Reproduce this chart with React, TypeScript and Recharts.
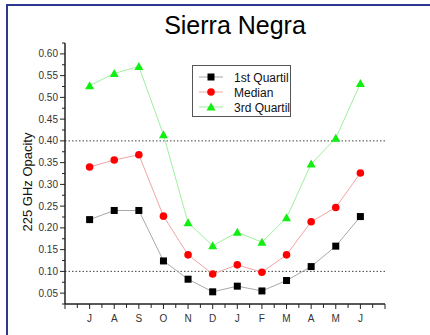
import { LineChart, Line, XAxis, YAxis, ReferenceLine } from 'recharts'

const months = ['J', 'A', 'S', 'O', 'N', 'D', 'J', 'F', 'M', 'A', 'M', 'J']
const firstQuartil = [0.219, 0.24, 0.24, 0.124, 0.082, 0.053, 0.066, 0.055, 0.079, 0.111, 0.158, 0.226]
const median = [0.34, 0.356, 0.368, 0.227, 0.138, 0.094, 0.115, 0.098, 0.138, 0.214, 0.247, 0.326]
const thirdQuartil = [0.527, 0.555, 0.571, 0.414, 0.212, 0.159, 0.19, 0.167, 0.223, 0.347, 0.406, 0.532]
const refLevels = [0.4, 0.1]

const data = months.map((m, i) => ({
  x: i + 1,
  month: m,
  q1: firstQuartil[i],
  med: median[i],
  q3: thirdQuartil[i],
}))

const xTicks = Array.from({ length: 27 }, (_, i) => i / 2)
const yTicks = Array.from({ length: 25 }, (_, i) => Math.round((0.025 + i * 0.025) * 1000) / 1000)

const FONT = '"Liberation Sans", Arial, sans-serif'
const AXIS = '#222'

type Marker = 'square' | 'circle' | 'triangle'

const series: { key: string; name: string; line: string; fill: string; marker: Marker }[] = [
  { key: 'q1', name: '1st Quartil', line: '#a8a8a8', fill: '#000000', marker: 'square' },
  { key: 'med', name: 'Median', line: '#f2a4a4', fill: '#ff0000', marker: 'circle' },
  { key: 'q3', name: '3rd Quartil', line: '#9ef09e', fill: '#11ee11', marker: 'triangle' },
]

function markerShape(kind: Marker, cx: number, cy: number, fill: string, key?: string | number) {
  if (kind === 'square') return <rect key={key} x={cx - 3.5} y={cy - 3.5} width={7} height={7} fill={fill} />
  if (kind === 'circle') return <circle key={key} cx={cx} cy={cy} r={3.8} fill={fill} />
  return <polygon key={key} points={`${cx},${cy - 4.5} ${cx + 4.5},${cy + 3.5} ${cx - 4.5},${cy + 3.5}`} fill={fill} />
}

function YTick({ x, y, payload }: any) {
  const v = payload.value
  const major = Math.abs(v * 20 - Math.round(v * 20)) < 1e-6
  const show = major && v >= 0.05 && v <= 0.6
  return (
    <g>
      <line x1={x - (major ? 5 : 3)} x2={x} y1={y} y2={y} stroke={AXIS} />
      {show && (
        <text x={x - 7} y={y} dy={3.5} textAnchor="end" fontSize={10} fill="#333" fontFamily={FONT}>
          {v.toFixed(2)}
        </text>
      )}
    </g>
  )
}

function XTick({ x, y, payload }: any) {
  const v = payload.value
  const major = Number.isInteger(v)
  const label = major && v >= 1 && v <= 12 ? months[v - 1] : ''
  return (
    <g>
      <line x1={x} x2={x} y1={y} y2={y + (major ? 5 : 4)} stroke={AXIS} />
      {label && (
        <text x={x} y={y + 18} textAnchor="middle" fontSize={10} fill="#333" fontFamily={FONT}>
          {label}
        </text>
      )}
    </g>
  )
}

function LegendBox() {
  return (
    <div
      style={{
        position: 'absolute',
        left: 192,
        top: 65,
        width: 99,
        height: 52,
        border: '1px solid #555',
        background: '#fff',
        boxSizing: 'border-box',
      }}
    >
      <svg width={99} height={52} style={{ position: 'absolute', left: 0, top: 0 }}>
        {series.map((s, i) => {
          const cy = 11 + i * 15
          return (
            <g key={s.key}>
              <line x1={6} x2={30} y1={cy} y2={cy} stroke={s.line} />
              {markerShape(s.marker, 18, cy, s.fill)}
              <text x={41} y={cy + 4.5} fontSize={12} fill="#111" fontFamily={FONT}>
                {s.name}
              </text>
            </g>
          )
        })}
      </svg>
    </div>
  )
}

export default function App() {
  return (
    <div style={{ position: 'absolute', left: 0, top: 0, width: 430, height: 335, background: '#fff', overflow: 'hidden', fontFamily: FONT }}>
      <div style={{ position: 'absolute', left: 6, top: 4, right: -10, bottom: -10, borderTop: '2px solid #2d3891', borderLeft: '2px solid #2d3891' }} />
      <div style={{ position: 'absolute', left: 0, width: 470, top: 10, textAlign: 'center', fontSize: 25, color: '#000', lineHeight: '30px' }}>
        Sierra Negra
      </div>
      <div
        style={{
          position: 'absolute',
          left: 27,
          top: 182,
          transform: 'translate(-50%, -50%) rotate(-90deg)',
          fontSize: 13,
          whiteSpace: 'nowrap',
          color: '#111',
        }}
      >
        225 GHz Opacity
      </div>
      <div style={{ position: 'absolute', left: 0, top: 0 }}>
        <LineChart width={430} height={335} data={data} margin={{ top: 43, right: 45, bottom: 0, left: 0 }}>
          <XAxis
            type="number"
            dataKey="x"
            domain={[0, 13]}
            ticks={xTicks}
            interval={0}
            height={31}
            tickSize={0}
            tickMargin={0}
            tickLine={false}
            tick={<XTick />}
            axisLine={{ stroke: AXIS, strokeWidth: 1.5 }}
          />
          <YAxis
            type="number"
            domain={[0.025, 0.625]}
            ticks={yTicks}
            interval={0}
            width={65}
            tickSize={0}
            tickMargin={0}
            tickLine={false}
            tick={<YTick />}
            axisLine={{ stroke: AXIS, strokeWidth: 1.5 }}
          />
          {refLevels.map((r) => (
            <ReferenceLine key={r} y={r} stroke="#444" strokeDasharray="1.5 2" />
          ))}
          {series.map((s) => (
            <Line
              key={s.key}
              type="linear"
              dataKey={s.key}
              name={s.name}
              stroke={s.line}
              strokeWidth={1}
              isAnimationActive={false}
              dot={(p: any) => markerShape(s.marker, p.cx, p.cy, s.fill, `${s.key}-${p.index}`)}
              activeDot={false}
            />
          ))}
        </LineChart>
      </div>
      <LegendBox />
    </div>
  )
}
